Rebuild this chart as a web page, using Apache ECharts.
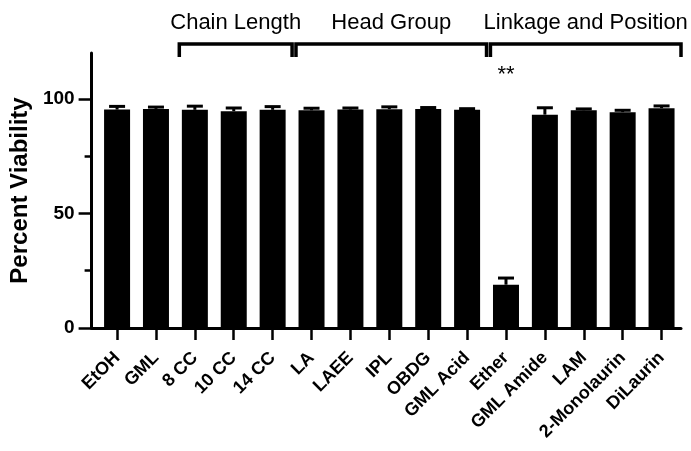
<!DOCTYPE html>
<html>
<head>
<meta charset="utf-8">
<script src="https://cdn.jsdelivr.net/npm/echarts@6/dist/echarts.min.js"></script>
<style>
html, body { margin: 0; padding: 0; background: #fff; }
#chart { width: 691px; height: 451px; }
</style>
</head>
<body>
<div id="chart"></div>
<script>
const categories = ['EtOH', 'GML', '8 CC', '10 CC', '14 CC', 'LA', 'LAEE', 'IPL', 'OBDG', 'GML Acid', 'Ether', 'GML Amide', 'LAM', '2-Monolaurin', 'DiLaurin']
const viability = [95.3, 95.6, 95.2, 94.6, 95.2, 95.0, 95.3, 95.5, 95.6, 95.2, 18.9, 93.1, 95.0, 94.2, 95.9]
const errors = [1.4, 0.8, 1.6, 1.4, 1.4, 0.9, 0.7, 1.0, 0.6, 0.5, 2.9, 3.0, 0.6, 0.8, 1.0]
const significance = ['', '', '', '', '', '', '', '', '', '', '**', '', '', '', '']
const groupNames = ['Chain Length', 'Head Group', 'Linkage and Position']
const groupStart = [2, 5, 10]
const groupEnd = [4, 9, 14]
const yMajorTicks = [0, 50, 100]
const yMinorTicks = [25, 75]

const FONT = 'Liberation Sans, Arial, Helvetica, sans-serif'
const catIndex = categories.map((_, i) => i)

const chart = echarts.init(document.getElementById('chart'))

function yAxisBase(extra) {
  return Object.assign({
    type: 'value',
    min: 0,
    max: 120,
    position: 'left',
    splitLine: { show: false },
    axisLine: { show: true, onZero: false, lineStyle: { color: '#000', width: 3 } }
  }, extra)
}

chart.setOption({
  animation: false,
  grid: { left: 91.5, right: 10, top: 53, bottom: 123, containLabel: false },
  xAxis: {
    type: 'value',
    min: -0.655,
    max: 14.5,
    splitLine: { show: false },
    axisLine: { onZero: false, lineStyle: { color: '#000', width: 3 } },
    axisTick: { customValues: catIndex, length: 12, lineStyle: { color: '#000', width: 2.5 } },
    axisLabel: {
      customValues: catIndex,
      formatter: v => categories[Math.round(v)],
      rotate: 45,
      margin: 27,
      color: '#000',
      fontSize: 18,
      fontWeight: 'bold',
      fontFamily: FONT
    }
  },
  yAxis: [
    yAxisBase({
      name: 'Percent Viability',
      nameLocation: 'middle',
      nameGap: 46,
      nameTextStyle: { color: '#000', fontSize: 24, fontWeight: 'bold', fontFamily: FONT },
      axisTick: { customValues: yMajorTicks, length: 13, lineStyle: { color: '#000', width: 2.5 } },
      axisLabel: {
        customValues: yMajorTicks,
        margin: 17,
        color: '#000',
        fontSize: 19,
        fontWeight: 'bold',
        fontFamily: FONT
      }
    }),
    yAxisBase({
      axisLine: { show: false, onZero: false },
      axisLabel: { show: false },
      axisTick: { customValues: yMinorTicks, length: 7, lineStyle: { color: '#000', width: 2.5 } }
    })
  ],
  series: [
    {
      type: 'bar',
      data: viability.map((v, i) => [i, v]),
      barWidth: 26,
      itemStyle: { color: '#000' }
    },
    {
      // error bars, upper whisker only
      type: 'custom',
      data: viability.map((v, i) => [i, v, v + errors[i]]),
      z: 3,
      renderItem(params, api) {
        const base = api.coord([api.value(0), api.value(1)])
        const top = api.coord([api.value(0), api.value(2)])
        const style = { stroke: '#000', lineWidth: 3 }
        return {
          type: 'group',
          children: [
            { type: 'line', shape: { x1: base[0], y1: base[1], x2: top[0], y2: top[1] }, style },
            { type: 'line', shape: { x1: top[0] - 8, y1: top[1], x2: top[0] + 8, y2: top[1] }, style }
          ]
        }
      }
    },
    {
      // group brackets above the plot
      type: 'custom',
      clip: false,
      data: groupStart.map((s, k) => [s, groupEnd[k]]),
      renderItem(params, api) {
        const x1 = api.coord([api.value(0) - 0.4, 0])[0]
        const x2 = api.coord([api.value(1) + 0.5, 0])[0]
        const yTop = params.coordSys.y - 9
        return {
          type: 'group',
          children: [
            {
              type: 'polyline',
              shape: { points: [[x1, yTop + 13], [x1, yTop], [x2, yTop], [x2, yTop + 13]] },
              style: { stroke: '#000', lineWidth: 3.5, fill: null }
            },
            {
              type: 'text',
              x: (x1 + x2) / 2,
              y: params.coordSys.y - 30,
              style: {
                text: groupNames[params.dataIndex],
                fill: '#000',
                font: '22px ' + FONT,
                align: 'center',
                verticalAlign: 'middle'
              }
            }
          ]
        }
      }
    },
    {
      // significance marks
      type: 'custom',
      clip: false,
      data: catIndex.map(i => [i]),
      renderItem(params, api) {
        const mark = significance[params.dataIndex]
        if (!mark) return null
        const x = api.coord([api.value(0), 0])[0]
        return {
          type: 'text',
          x: x,
          y: params.coordSys.y + 22,
          style: { text: mark, fill: '#000', font: '22px ' + FONT, align: 'center', verticalAlign: 'middle' }
        }
      }
    }
  ]
})
</script>
</body>
</html>
